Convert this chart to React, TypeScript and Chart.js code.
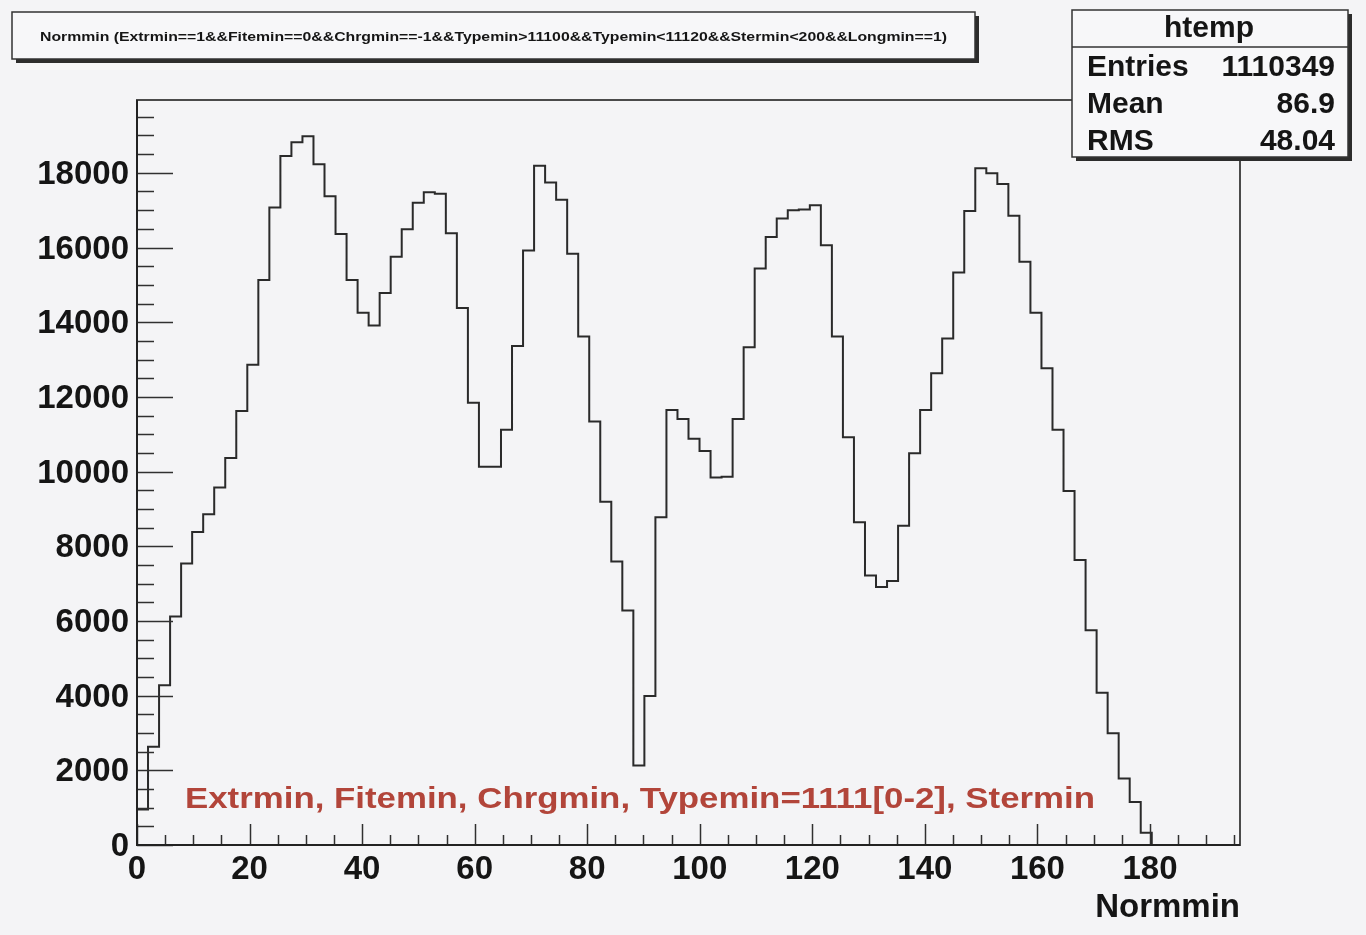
import React, { useEffect, useRef } from "react";
import { Chart, registerables } from "chart.js";

Chart.register(...registerables);

// ---------------- data ----------------
const BIN_WIDTH = 1.96; // Normmin bin width (100 bins over 0..196)
const X_MIN = 0;
const X_MAX = 196;
const Y_MIN = 0;
const Y_MAX = 19950;

// bin contents, bins 0..91 (all remaining bins are empty)
const BIN_COUNTS = [
  950, 2630, 4280, 6120, 7540, 8380, 8860, 9570, 10360, 11620,
  12860, 15130, 17070, 18450, 18820, 18980, 18230, 17370, 16360, 15130,
  14250, 13910, 14780, 15750, 16490, 17200, 17480, 17440, 16380, 14380,
  11840, 10130, 10130, 11120, 13360, 15920, 18190, 17740, 17280, 15830,
  13620, 11340, 9190, 7590, 6280, 2130, 3990, 8780, 11650, 11410,
  10880, 10550, 9840, 9860, 11410, 13330, 15440, 16280, 16780, 17000,
  17020, 17130, 16060, 13620, 10920, 8640, 7220, 6910, 7070, 8550,
  10490, 11650, 12630, 13560, 15330, 16980, 18120, 17990, 17700, 16850,
  15620, 14250, 12770, 11120, 9480, 7630, 5750, 4080, 2990, 1780,
  1150, 330,
];

const X_TICK_VALUES = [0, 20, 40, 60, 80, 100, 120, 140, 160, 180];
const Y_TICK_VALUES = [0, 2000, 4000, 6000, 8000, 10000, 12000, 14000, 16000, 18000];
const X_MINOR_STEP = 5;
const Y_MINOR_STEP = 500;

const X_TITLE = "Normmin";
const PLOT_TITLE =
  "Normmin (Extrmin==1&&Fitemin==0&&Chrgmin==-1&&Typemin>11100&&Typemin<11120&&Stermin<200&&Longmin==1)";
const ANNOTATION = "Extrmin, Fitemin, Chrgmin, Typemin=1111[0-2], Stermin";
const STATS_NAME = "htemp";
const STATS_LABELS = ["Entries", "Mean", "RMS"];
const STATS_VALUES = ["1110349", "86.9", "48.04"];

// ---------------- styles ----------------
const BG = "#f4f4f6";
const FONT_FAMILY = '"Liberation Sans", Arial, Helvetica, sans-serif';
const TEXT_COLOR = "#151515";
const RED = "#b2453a";

function drawFitted(
  ctx: CanvasRenderingContext2D,
  text: string,
  x: number,
  y: number,
  width: number
) {
  const w = ctx.measureText(text).width;
  const sx = width / w;
  ctx.save();
  ctx.translate(x, y);
  ctx.scale(sx, 1);
  ctx.textAlign = "left";
  ctx.fillText(text, 0, 0);
  ctx.restore();
}

function shadowBox(
  ctx: CanvasRenderingContext2D,
  x: number,
  y: number,
  w: number,
  h: number,
  fill: string
) {
  ctx.fillStyle = "#2c2c2c";
  ctx.fillRect(x + 4, y + 4, w, h);
  ctx.fillStyle = fill;
  ctx.fillRect(x, y, w, h);
  ctx.strokeStyle = "#333";
  ctx.lineWidth = 1.5;
  ctx.strokeRect(x, y, w, h);
}

const decorPlugin = {
  id: "rootDecor",
  beforeDraw(chart: any) {
    const ctx = chart.ctx as CanvasRenderingContext2D;
    ctx.save();
    ctx.fillStyle = BG;
    ctx.fillRect(0, 0, chart.width, chart.height);
    ctx.restore();
  },
  afterDraw(chart: any) {
    const ctx = chart.ctx as CanvasRenderingContext2D;
    const a = chart.chartArea;
    const xs = chart.scales.x;
    const ys = chart.scales.y;
    ctx.save();

    // axis tick marks (drawn inward, ROOT style)
    ctx.strokeStyle = "#303030";
    ctx.lineWidth = 1.5;
    ctx.beginPath();
    for (let v = X_MIN; v <= X_MAX; v += X_MINOR_STEP) {
      const px = Math.round(xs.getPixelForValue(v)) + 0.5;
      const len = v % 20 === 0 ? 21 : 10;
      ctx.moveTo(px, a.bottom);
      ctx.lineTo(px, a.bottom - len);
    }
    for (let v = Y_MIN; v <= Y_MAX; v += Y_MINOR_STEP) {
      const py = Math.round(ys.getPixelForValue(v)) + 0.5;
      const len = v % 2000 === 0 ? 36 : 17;
      ctx.moveTo(a.left, py);
      ctx.lineTo(a.left + len, py);
    }
    ctx.stroke();

    // frame
    ctx.strokeStyle = "#4a4a4a";
    ctx.lineWidth = 2;
    ctx.strokeRect(a.left, a.top, a.right - a.left, a.bottom - a.top);
    ctx.strokeStyle = "#222";
    ctx.beginPath();
    ctx.moveTo(a.left, a.top);
    ctx.lineTo(a.left, a.bottom);
    ctx.lineTo(a.right, a.bottom);
    ctx.stroke();

    // red annotation
    ctx.fillStyle = RED;
    ctx.font = `bold 30px ${FONT_FAMILY}`;
    ctx.textBaseline = "alphabetic";
    drawFitted(ctx, ANNOTATION, a.left + 48, a.bottom - 37, 910);

    // title box
    shadowBox(ctx, 12, 12, 963, 47, "#f7f7f9");
    ctx.fillStyle = TEXT_COLOR;
    ctx.font = `bold 13px ${FONT_FAMILY}`;
    ctx.textBaseline = "middle";
    drawFitted(ctx, PLOT_TITLE, 40, 37, 907);

    // stats box
    const bx = 1072, by = 10, bw = 276, bh = 147;
    shadowBox(ctx, bx, by, bw, bh, "#f7f7f9");
    ctx.strokeStyle = "#333";
    ctx.lineWidth = 1.5;
    ctx.beginPath();
    ctx.moveTo(bx, 47);
    ctx.lineTo(bx + bw, 47);
    ctx.stroke();
    ctx.fillStyle = TEXT_COLOR;
    ctx.font = `bold 30px ${FONT_FAMILY}`;
    ctx.textBaseline = "middle";
    ctx.textAlign = "center";
    ctx.fillText(STATS_NAME, bx + bw / 2 - 1, 29);
    const rows = [68, 105, 142];
    STATS_LABELS.forEach((lab, i) => {
      ctx.textAlign = "left";
      ctx.fillText(lab, 1087, rows[i]);
      ctx.textAlign = "right";
      ctx.fillText(STATS_VALUES[i], 1335, rows[i]);
    });

    ctx.restore();
  },
};

export default function App() {
  const canvasRef = useRef<HTMLCanvasElement | null>(null);

  useEffect(() => {
    document.body.style.margin = "0";
    document.body.style.background = BG;
    const canvas = canvasRef.current;
    if (!canvas) return;

    const points = BIN_COUNTS.map((c, i) => ({ x: i * BIN_WIDTH, y: c }));
    points.push({ x: BIN_COUNTS.length * BIN_WIDTH, y: 0 });

    const tickFont = { family: FONT_FAMILY, size: 33, weight: "bold" as const };

    const chart = new Chart(canvas, {
      type: "line",
      data: {
        datasets: [
          {
            data: points,
            stepped: true,
            borderColor: "#2a2a2a",
            borderWidth: 2,
            pointRadius: 0,
            fill: false,
            tension: 0,
          },
        ],
      },
      options: {
        animation: false,
        responsive: false,
        devicePixelRatio: 1,
        layout: { padding: { top: 100, right: 126, left: 0, bottom: 0 } },
        plugins: {
          legend: { display: false },
          tooltip: { enabled: false },
          title: { display: false },
        },
        scales: {
          x: {
            type: "linear",
            min: X_MIN,
            max: X_MAX,
            afterFit: (s: any) => {
              s.height = 90;
            },
            afterBuildTicks: (s: any) => {
              s.ticks = X_TICK_VALUES.map((v) => ({ value: v }));
            },
            grid: { display: false, drawTicks: false },
            border: { display: false },
            ticks: {
              padding: 5,
              font: tickFont,
              color: TEXT_COLOR,
              maxRotation: 0,
              autoSkip: false,
              callback: (v: any) => String(v),
            },
            title: {
              display: true,
              text: X_TITLE,
              align: "end",
              font: tickFont,
              color: TEXT_COLOR,
              padding: { top: 0, bottom: 7 },
            },
          },
          y: {
            type: "linear",
            min: Y_MIN,
            max: Y_MAX,
            afterFit: (s: any) => {
              s.width = 137;
            },
            afterBuildTicks: (s: any) => {
              s.ticks = Y_TICK_VALUES.map((v) => ({ value: v }));
            },
            grid: { display: false, drawTicks: false },
            border: { display: false },
            ticks: {
              padding: 8,
              labelOffset: 2,
              font: tickFont,
              color: TEXT_COLOR,
              autoSkip: false,
              callback: (v: any) => String(v),
            },
          },
        },
      },
      plugins: [decorPlugin],
    });

    return () => chart.destroy();
  }, []);

  return (
    <div style={{ width: 1366, height: 935, background: BG }}>
      <canvas
        ref={canvasRef}
        width={1366}
        height={935}
        style={{ display: "block", width: 1366, height: 935 }}
      />
    </div>
  );
}
